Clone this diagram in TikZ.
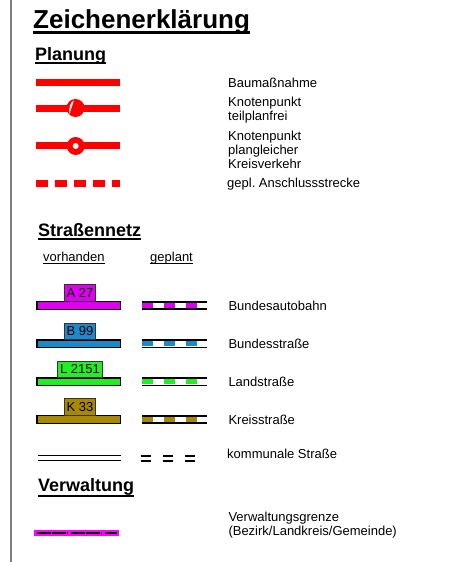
\documentclass[tikz,border=0pt]{standalone}
\usepackage{fontspec}
\setmainfont{Liberation Sans}
\usepackage{tikz}
\usetikzlibrary{calc}
\usepackage{xcolor}
\definecolor{PlanRed}{HTML}{FF0000}
\definecolor{FrameGray}{HTML}{7F7F7F}
\definecolor{RoadMagenta}{HTML}{DD00EE}
\definecolor{RoadBlue}{HTML}{1A8AC8}
\definecolor{RoadGreen}{HTML}{22EE22}
\definecolor{RoadOlive}{HTML}{A88800}
\definecolor{BorderMagenta}{HTML}{FF00FF}
\tikzset{
  legtext/.style={anchor=base west,inner sep=0pt,align=left,font=\fontsize{13}{13.8}\selectfont},
  legtitle/.style={anchor=base west,inner sep=0pt,font=\fontsize{26}{30}\selectfont\bfseries},
  leghead/.style={anchor=base west,inner sep=0pt,font=\fontsize{18}{20}\selectfont\bfseries},
  roadbox/.style={draw=black!80,line width=0.8pt,inner xsep=2.5pt,inner ysep=0pt,minimum height=16.7pt,anchor=south,font=\fontsize{13}{13}\selectfont},
  under/.style={line width=#1}
}

\begin{document}
\begin{tikzpicture}[x=1pt,y=-1pt]
    \useasboundingbox (0,0) rectangle (461,562);
    \draw[FrameGray,line width=2pt] (11,0) -- (11,562);
    \node[legtitle] (title) at (33,28.5) {Zeichenerklärung};
    \draw[under=2.2pt] ([yshift=-4pt]title.base west) -- ([yshift=-4pt]title.base east);
    \foreach \name/\txt/\x/\y/\d in {planung/Planung/35/60/3,strassen/Straßennetz/38/236/2.8,verwaltung/Verwaltung/38/491.7/3.8} {
     \node[leghead] (\name) at (\x,\y) {\txt};
     \draw[under=2pt] ([yshift=-\d pt]\name.base west) -- ([yshift=-\d pt]\name.base east);
    }
    \foreach \name/\txt/\x in {vorh/vorhanden/43,gepl/geplant/150} {
     \node[legtext] (\name) at (\x,261) {\txt};
     \draw[under=0.9pt] ([yshift=-2.3pt]\name.base west) -- ([yshift=-2.3pt]\name.base east);
    }
    \draw[PlanRed,line width=7pt] (36,82.5) -- (119.5,82.5);
    \draw[PlanRed,line width=7pt] (36,108.7) -- (119.5,108.7);
    \fill[PlanRed] (75.5,108) circle (9pt);
    \fill[white] (74,100.3) -- (69.5,114) .. controls (68.5,108) and (70,103) .. (74,100.3);
    \draw[PlanRed,line width=7pt] (36,145.5) -- (119.5,145.5);
    \fill[PlanRed] (75.7,146) circle (9pt);
    \fill[white] (75.7,146) circle (3pt);
    \draw[PlanRed,line width=7pt,dash pattern=on 11.5pt off 7.5pt] (36,183.3) -- (119.5,183.3);
    \node[legtext] (bau) at (228,87.3) {Baumaßnahme};
    \node[legtext] (teil) at (228,120.3) {Knotenpunkt\\teilplanfrei};
    \node[legtext] (kreis) at (228,168) {Knotenpunkt\\plangleicher\\Kreisverkehr};
    \node[legtext] (anschl) at (227,187.5) {gepl.\ Anschlussstrecke};
    \foreach \num/\col/\y/\txt [count=\i] in {A 27/RoadMagenta/305.5/Bundesautobahn,B 99/RoadBlue/343.7/Bundesstraße,L 2151/RoadGreen/381.7/Landstraße,K 33/RoadOlive/419.4/Kreisstraße} {
     \filldraw[fill=\col,draw=black,line width=1.2pt] (37,\y-3.7) rectangle (120.5,\y+3.7);
     \node[roadbox,fill=\col] (road\i) at (80,\y-3.7) {\num};
     \draw[\col,line width=5pt,dash pattern=on 11pt off 11.3pt] (141.7,\y) -- (207.3,\y);
     \draw[line width=1.6pt] (141.7,\y-3.7) -- (207.3,\y-3.7) (141.7,\y+3.7) -- (207.3,\y+3.7);
     \node[legtext] (lab\i) at (228.3,\y+5.2) {\txt};
    }
    \draw[line width=1.3pt] (37.7,455.3) -- (120.7,455.3) (37.7,460.7) -- (120.7,460.7);
    \draw[line width=2pt,dash pattern=on 10pt off 12.3pt] (140.7,455.5) -- (197,455.5) (140.7,461) -- (197,461);
    \node[legtext] (komm) at (227,458.7) {kommunale Straße};
    \draw[BorderMagenta,line width=6pt] (34.3,533) -- (119.3,533);
    \draw[line width=2.7pt,dash pattern=on 14pt off 1.7pt on 13.5pt off 1.5pt on 1pt off 2.3pt] (36.7,533) -- (117.3,533);
    \node[legtext] (grenze) at (228.3,535) {Verwaltungsgrenze\\(Bezirk/Landkreis/Gemeinde)};
\end{tikzpicture}
\end{document}
